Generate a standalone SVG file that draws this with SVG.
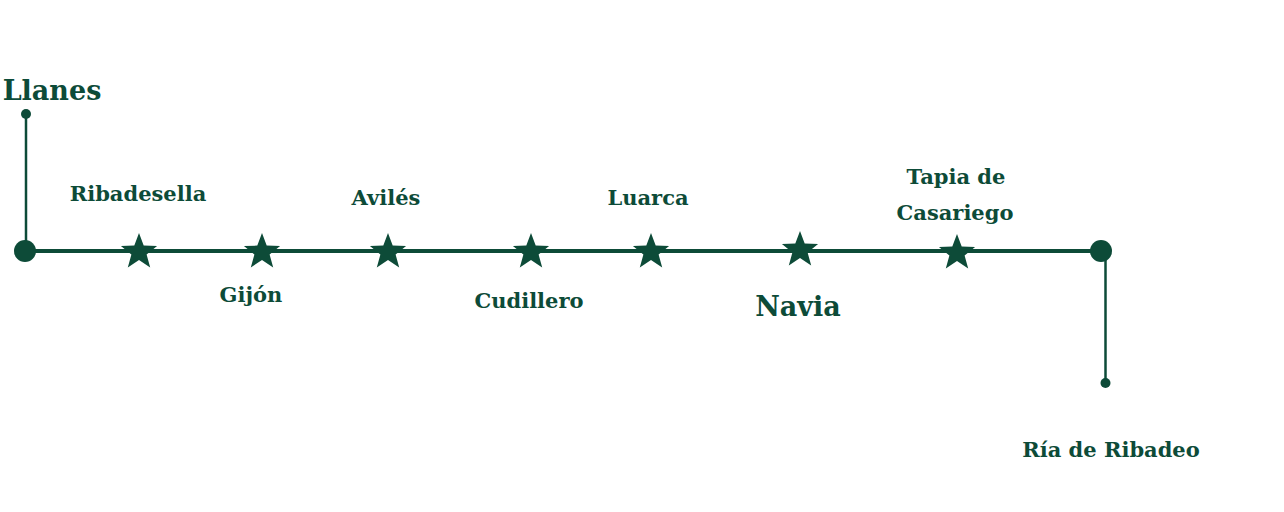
<svg xmlns="http://www.w3.org/2000/svg" width="1284" height="512" viewBox="0 0 1284 512">
<defs>
<style>
.t{font-family:"DejaVu Serif","Liberation Serif",serif;font-weight:bold;fill:#0d4b38;font-size:21px;text-anchor:middle}
.big{font-size:27px}
.ln{stroke:#0d4b38;fill:none}
.st{fill:#0d4b38}
</style>
<path id="star" d="M0,-19 L4.7,-6.4 L18.1,-5.9 L7.6,2.5 L11.2,15.4 L0,8 L-11.2,15.4 L-7.6,2.5 L-18.1,-5.9 L-4.7,-6.4 Z"/>
</defs>
<rect width="1284" height="512" fill="#fff"/>
<g id="connectors">
<line class="ln" x1="26" y1="114" x2="26" y2="251" stroke-width="2.5"/>
<line class="ln" x1="25" y1="251" x2="1101" y2="251" stroke-width="4"/>
<line class="ln" x1="1105.5" y1="251" x2="1105.5" y2="383" stroke-width="2.5"/>
</g>
<g id="llanes">
<circle class="st" cx="26" cy="114" r="5"/>
<circle class="st" cx="25" cy="251" r="11"/>
<text class="t big" x="52" y="100">Llanes</text>
</g>
<g id="ribadesella"><use href="#star" class="st" x="139" y="252"/><text class="t" x="138" y="201">Ribadesella</text></g>
<g id="gijon"><use href="#star" class="st" x="262" y="252"/><text class="t" x="251" y="302">Gijón</text></g>
<g id="aviles"><use href="#star" class="st" x="388" y="252"/><text class="t" x="386" y="205">Avilés</text></g>
<g id="cudillero"><use href="#star" class="st" x="531" y="252"/><text class="t" x="529" y="308">Cudillero</text></g>
<g id="luarca"><use href="#star" class="st" x="651" y="252"/><text class="t" x="648" y="205">Luarca</text></g>
<g id="navia"><use href="#star" class="st" x="800" y="250"/><text class="t big" x="798" y="316">Navia</text></g>
<g id="tapia"><use href="#star" class="st" x="957" y="253"/><text class="t" x="956" y="184">Tapia de</text><text class="t" x="955" y="220">Casariego</text></g>
<g id="ribadeo">
<circle class="st" cx="1101" cy="251" r="11"/>
<circle class="st" cx="1105.5" cy="383" r="5"/>
<text class="t" x="1111" y="457">Ría de Ribadeo</text>
</g>
</svg>
